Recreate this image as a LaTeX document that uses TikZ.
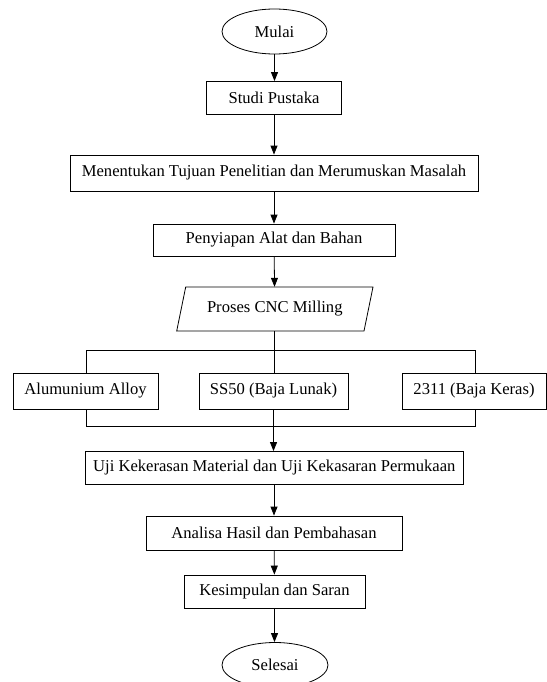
\documentclass[tikz,border=0pt]{standalone}
\usepackage{fontspec}
\setmainfont{Liberation Serif}
\usetikzlibrary{arrows.meta,shapes.geometric}

\begin{document}
\begin{tikzpicture}
      [x=1pt,y=-1pt
      ,every node/.style={font=\fontsize{16.6}{18}\selectfont,inner sep=0pt}
      ,box/.style={draw,line width=.8pt,minimum height=33pt}
      ,term/.style={draw,ellipse,line width=.8pt,minimum width=105pt,minimum height=45pt}
      ,io/.style={minimum width=188pt,minimum height=44pt}
      ,lin/.style={line width=.8pt}
      ,arr/.style={lin,-{Triangle[width=7pt,length=9pt]}}
      ]
        \useasboundingbox (0,0) rectangle (546,682);
        % main column
        \node[term] (mulai) at (274.5,31.5) {Mulai};
        \node[box,minimum width=135pt] (studi) at (274,98) {Studi Pustaka};
        \node[box,minimum width=408pt,minimum height=36pt] (tujuan) at (274,173)
          {Menentukan Tujuan Penelitian dan Merumuskan Masalah};
        \node[box,minimum width=242pt,minimum height=32pt] (alat) at (274,240) {Penyiapan Alat dan Bahan};
        \node[io] (cnc) at (274.8,309) {Proses CNC Milling};
        \draw[lin] (176.7,331) -- (364,331) -- (373,287) -- (185.7,287) -- cycle;
        % branches
        \node[box,minimum width=145pt,minimum height=36pt] (alloy) at (85.5,391) {Alumunium Alloy};
        \node[box,minimum width=149pt,minimum height=36pt] (ss50) at (273.5,391) {SS50 (Baja Lunak)};
        \node[box,minimum width=144pt,minimum height=36pt] (keras) at (474,391) {2311 (Baja Keras)};
        \coordinate (splitL) at (86,350);
        \coordinate (splitR) at (475.5,350);
        \coordinate (joinL) at (86,426);
        \coordinate (joinR) at (475.5,426);
        % lower column
        \node[box,minimum width=378pt] (uji) at (274.3,468)
          {Uji Kekerasan Material dan Uji Kekasaran Permukaan};
        \node[box,minimum width=256pt,minimum height=34pt] (analisa) at (274,533) {Analisa Hasil dan Pembahasan};
        \node[box,minimum width=181pt] (simpul) at (274.5,591.5) {Kesimpulan dan Saran};
        \node[term,minimum width=106pt] (selesai) at (275,665) {Selesai};

        \draw[arr] (mulai.south) -- (mulai.south |- studi.north);
        \draw[arr] (studi) -- (tujuan);
        \draw[arr] (tujuan) -- (alat);
        \draw[arr] (alat) -- (cnc);
        \draw[lin] (cnc.south) -- (cnc.south |- splitL);
        \draw[lin] (splitL |- alloy.north) -- (splitL) -- (splitR) -- (splitR |- keras.north);
        \draw[lin] (cnc.south |- splitL) -- (cnc.south |- ss50.north);
        \draw[lin] (joinL |- alloy.south) -- (joinL) -- (joinR) -- (joinR |- keras.south);
        \draw[arr] (ss50.south) -- (ss50.south |- uji.north);
        \draw[arr] (uji.south -| analisa.north) -- (analisa.north);
        \draw[arr] (analisa) -- (simpul);
        \draw[arr] (simpul) -- (simpul.south |- selesai.north);
      \end{tikzpicture}
\end{document}
